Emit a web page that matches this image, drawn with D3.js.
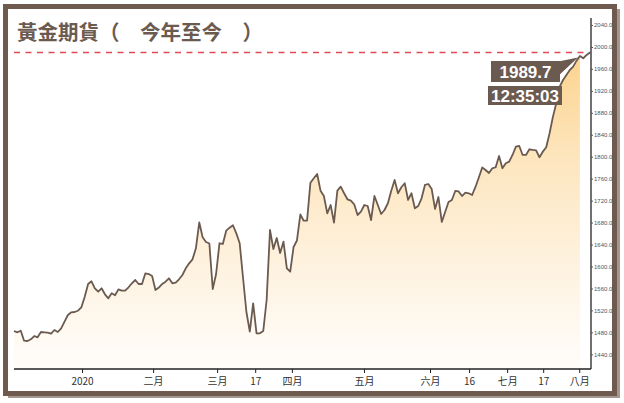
<!DOCTYPE html>
<html><head><meta charset="utf-8">
<script src="https://cdn.jsdelivr.net/npm/d3@7"></script>
<style>
html,body{margin:0;padding:0;background:#fff;}
svg{display:block;}
</style></head>
<body>
<script>
const title = "黃金期貨（　今年至今　）";
const prices = [
1482.5,1480.1,1483,1464.8,1464.2,1467.3,1473.3,1471,1480.6,1480.1,
1479.4,1477.5,1484.3,1480.6,1487.4,1499.4,1511.6,1516.5,1517.1,1519.4,
1525.6,1545,1568.1,1573,1560.3,1554.1,1560.3,1549.3,1542,1551.2,
1547.5,1558.4,1555.9,1555.9,1562.1,1569.4,1575.4,1568.1,1568.1,1587.6,
1586.3,1582.7,1557.2,1561.7,1568.1,1572.3,1578.5,1569.4,1570.5,1576.7,
1584.5,1596.7,1605.8,1613.1,1633.2,1680.2,1653.2,1644.6,1641.9,1559,
1586.3,1642.3,1641,1665.2,1670.7,1675.1,1660.5,1642.3,1579,1517.1,
1481.5,1532.9,1478.3,1478.3,1482.5,1538.9,1666.5,1631.9,1651.9,1624.6,
1645.2,1596.7,1590.5,1635.5,1647.4,1694.7,1683.4,1683.4,1752.7,1760.7,
1768.5,1738.1,1728.4,1696.9,1712,1679.8,1738.1,1745.4,1733.4,1722.4,
1719.9,1713.3,1693.8,1699.8,1712,1710.2,1684.7,1728.4,1712,1695.7,
1702.9,1715.2,1738.1,1757.6,1733.4,1744.3,1751.6,1721.2,1733.4,1706,
1710.2,1724.3,1748.5,1750.3,1741.2,1704.8,1726.6,1681.1,1699.3,1717.5,
1721.2,1737.6,1736.7,1728.4,1734.5,1733.4,1730.3,1744.9,1762.2,1780.4,
1775.8,1770.4,1778.9,1780.8,1801.3,1778.9,1788,1791,1803.2,1818.3,
1819.6,1803.2,1803.2,1813.6,1812.3,1811.4,1799,1809.2,1817.2,1842.7,
1873,1897.4,1927.6,1939.8,1948.9,1958,1964.1,1975,1983.6,1979.4,
1985.4,1989.7
];
const filledCount = 169;            // points covered by the shaded area
const lastPrice = 1989.7;
const lastTime = "12:35:03";
const xTickPos = [20.2,41.3,60.3,71.6,82.5,103.9,123.5,135.1,146.4,157.1,167.8];
const xTickLabels = ["2020","二月","三月","17","四月","五月","六月","16","七月","17","八月"];
const yTicks = [1440,1480,1520,1560,1600,1640,1680,1720,1760,1800,1840,1880,1920,1960,2000,2040];

const W = 624, H = 403;
const brown = "#6b5a50";
const svg = d3.select("body").append("svg").attr("width", W).attr("height", H);

const defs = svg.append("defs");
const grad = defs.append("linearGradient").attr("id","g").attr("gradientUnits","userSpaceOnUse")
  .attr("x1",0).attr("y1",50).attr("x2",0).attr("y2",369);
grad.append("stop").attr("offset","0%").attr("stop-color","#fcd28c");
grad.append("stop").attr("offset","35%").attr("stop-color","#fde6bf");
grad.append("stop").attr("offset","70%").attr("stop-color","#fef3e2");
grad.append("stop").attr("offset","100%").attr("stop-color","#fffdfa");

// frame with shadow
svg.append("rect").attr("x",8).attr("y",9).attr("width",612).attr("height",389).attr("fill","#a39790");
svg.append("rect").attr("x",5.5).attr("y",6.5).attr("width",609).attr("height",387)
  .attr("fill","#fff").attr("stroke","#6e5a4f").attr("stroke-width",5);

const x = d3.scaleLinear().domain([0, prices.length-1]).range([14, 590]);
const y = d3.scaleLinear().domain([1440, 2040]).range([354.3, 25]);
const x0 = 14, x1 = 591, yBase = 369;

// area
const area = d3.area().x((d,i)=>x(i)).y0(yBase).y1(d=>y(d));
svg.append("path").datum(prices.slice(0, filledCount)).attr("d", area).attr("fill","url(#g)");

// title
svg.append("text").attr("x",17).attr("y",40).text(title)
  .attr("font-family","'Noto Sans CJK TC','Noto Sans CJK SC',sans-serif")
  .attr("font-weight","bold").attr("font-size",20.5).attr("fill",brown);

// dashed last-price line
svg.append("line").attr("x1",14).attr("x2",590).attr("y1",y(lastPrice)).attr("y2",y(lastPrice))
  .attr("stroke","#e04a55").attr("stroke-width",1.5).attr("stroke-dasharray","6,5.5");

// price line
const line = d3.line().x((d,i)=>x(i)).y(d=>y(d));
svg.append("path").datum(prices).attr("d", line).attr("fill","none")
  .attr("stroke",brown).attr("stroke-width",1.8).attr("stroke-linejoin","round");

// x axis
const xAxis = d3.axisBottom(x).tickValues(xTickPos).tickFormat((d,i)=>xTickLabels[i]).tickSize(4).tickSizeOuter(0);
const gx = svg.append("g").attr("transform",`translate(0,${yBase})`).call(xAxis);
gx.select(".domain").attr("d",`M${x0},0H${x1}`).attr("stroke","#222").attr("stroke-width",1.5);
gx.selectAll(".tick line").attr("stroke","#222");
gx.selectAll(".tick text").attr("font-family","'Noto Sans CJK TC',sans-serif").attr("font-size",10)
  .attr("fill","#333").attr("dy","0.9em");

// y axis
const yAxis = d3.axisRight(y).tickValues(yTicks).tickFormat(d3.format(".1f")).tickSize(2).tickPadding(1);
const gy = svg.append("g").attr("transform",`translate(${x1},0)`).call(yAxis);
gy.select(".domain").attr("d",`M0,18V${yBase}`).attr("stroke","#222").attr("stroke-width",1.3);
gy.selectAll(".tick line").attr("stroke","#555");
gy.selectAll(".tick text").attr("font-family","'Liberation Sans',Arial,sans-serif").attr("font-size",6)
  .attr("fill","#555");

// callouts
const endX = x(prices.length-1), endY = y(lastPrice);
svg.append("path").attr("d",`M556,62L556,78L${endX-12},${endY+5}Z`).attr("fill",brown);
const boxes = [
  {t: lastPrice.toFixed(1), bx:491, by:61, bw:69, bh:21},
  {t: lastTime, bx:488, by:86, bw:74, bh:19}
];
boxes.forEach(b=>{
  svg.append("rect").attr("x",b.bx).attr("y",b.by).attr("width",b.bw).attr("height",b.bh).attr("fill",brown);
  svg.append("text").attr("x",b.bx+b.bw/2).attr("y",b.by+b.bh/2).attr("dy","0.36em")
    .attr("text-anchor","middle").attr("fill","#fff").attr("font-weight","bold")
    .attr("font-family","'Liberation Sans',Arial,sans-serif").attr("font-size",17).text(b.t);
});
</script>
</body></html>
